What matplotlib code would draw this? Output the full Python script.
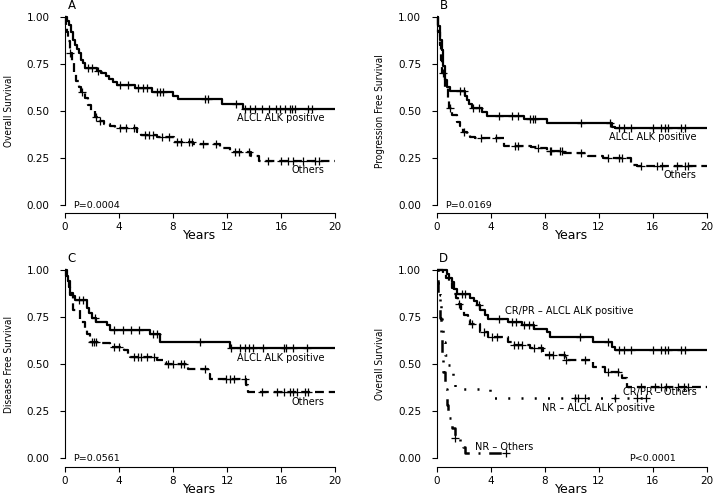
import matplotlib
matplotlib.use('Agg')
import matplotlib.pyplot as plt
import numpy as np

plt.rcParams['font.family'] = ['DejaVu Sans']

# ---------------- Panel A : Overall Survival ----------------
a_alk_t = [0, 0.12, 0.3, 0.42, 0.62, 0.74, 0.91, 1.06, 1.16, 1.36, 1.48, 2.35, 2.7, 3.04, 3.28, 3.58, 3.88, 5.19, 6.42, 8.0, 8.4, 11.6, 13.2]
a_alk_s = [1.0, 0.98, 0.96, 0.92, 0.88, 0.85, 0.83, 0.81, 0.77, 0.755, 0.728, 0.714, 0.70, 0.684, 0.67, 0.657, 0.636, 0.62, 0.60, 0.58, 0.563, 0.536, 0.51]
a_alk_c = [1.73, 1.98, 2.47, 4.07, 4.7, 5.43, 5.8, 6.05, 6.8, 7.04, 7.28, 10.4, 10.6, 12.7, 13.3, 13.7, 14.1, 14.6, 15.1, 15.6, 15.9, 16.3, 16.7, 16.8, 17.0, 18.0, 18.3]
a_oth_t = [0, 0.05, 0.12, 0.2, 0.35, 0.55, 0.7, 0.85, 1.0, 1.2, 1.45, 1.7, 1.95, 2.2, 2.5, 2.9, 3.3, 3.7, 5.3, 5.6, 6.8, 8.1, 9.5, 11.5, 12.2, 13.8, 14.4]
a_oth_s = [1.0, 0.95, 0.92, 0.87, 0.81, 0.76, 0.70, 0.66, 0.63, 0.60, 0.57, 0.53, 0.50, 0.47, 0.445, 0.43, 0.418, 0.408, 0.387, 0.373, 0.364, 0.337, 0.325, 0.305, 0.284, 0.261, 0.236]
a_oth_c = [0.4, 1.25, 2.3, 2.6, 4.1, 4.5, 5.1, 5.9, 6.2, 6.5, 7.2, 7.7, 8.3, 8.6, 9.2, 9.4, 10.2, 11.2, 12.6, 12.9, 13.6, 15.0, 16.0, 16.5, 16.9, 17.6, 18.5, 18.8]

# ---------------- Panel B : Progression Free Survival ----------------
b_alk_t = [0, 0.12, 0.25, 0.37, 0.49, 0.62, 0.76, 0.95, 2.1, 2.25, 2.4, 2.6, 3.35, 3.7, 6.44, 8.2, 12.96, 13.2]
b_alk_s = [1.0, 0.95, 0.88, 0.826, 0.737, 0.666, 0.627, 0.605, 0.58, 0.56, 0.535, 0.515, 0.496, 0.474, 0.456, 0.434, 0.417, 0.409]
b_alk_c = [1.7, 2.0, 2.7, 3.1, 4.6, 5.6, 6.0, 6.9, 7.1, 7.3, 10.7, 12.8, 13.5, 13.9, 14.4, 16.0, 16.6, 16.9, 17.1, 18.1, 18.4]
b_oth_t = [0, 0.12, 0.25, 0.33, 0.42, 0.62, 0.81, 0.91, 1.16, 1.48, 1.73, 1.98, 2.22, 2.47, 2.84, 5.0, 7.0, 7.4, 8.15, 9.4, 11.2, 12.3, 14.4, 14.8]
b_oth_s = [1.0, 0.92, 0.85, 0.77, 0.70, 0.63, 0.56, 0.515, 0.48, 0.444, 0.421, 0.39, 0.373, 0.364, 0.355, 0.314, 0.31, 0.302, 0.29, 0.275, 0.26, 0.249, 0.213, 0.205]
b_oth_c = [0.45, 0.95, 2.0, 3.3, 4.4, 5.8, 6.05, 7.5, 8.4, 8.5, 9.1, 9.3, 10.7, 12.7, 13.5, 13.7, 15.1, 16.3, 16.7, 17.8, 18.4, 18.6]

# ---------------- Panel C : Disease Free Survival ----------------
c_alk_t = [0, 0.1, 0.2, 0.3, 0.4, 0.6, 0.75, 1.6, 1.8, 2.0, 2.3, 3.1, 3.35, 6.3, 7.0, 12.2]
c_alk_s = [1.0, 0.97, 0.94, 0.91, 0.88, 0.86, 0.84, 0.80, 0.77, 0.745, 0.724, 0.706, 0.68, 0.662, 0.62, 0.584]
c_alk_c = [1.0, 1.3, 2.2, 3.6, 4.3, 4.9, 5.5, 6.5, 6.8, 10.0, 12.3, 12.96, 13.3, 13.6, 13.95, 14.7, 16.2, 16.4, 16.9, 17.9]
c_oth_t = [0, 0.15, 0.37, 0.62, 1.1, 1.5, 1.6, 1.85, 2.7, 3.3, 4.4, 4.7, 4.85, 6.8, 7.3, 7.5, 9.1, 10.6, 10.75, 13.4, 13.55]
c_oth_s = [1.0, 0.94, 0.866, 0.79, 0.724, 0.68, 0.66, 0.618, 0.61, 0.59, 0.575, 0.556, 0.538, 0.522, 0.511, 0.50, 0.476, 0.45, 0.42, 0.39, 0.354]
c_oth_c = [2.0, 2.15, 2.3, 3.6, 4.0, 5.1, 5.4, 5.6, 6.1, 6.6, 7.6, 8.0, 8.6, 8.8, 10.4, 11.9, 12.2, 12.5, 13.3, 14.6, 15.7, 16.2, 16.7, 16.9, 17.2, 17.8, 18.0]

# ---------------- Panel D : Overall Survival by response ----------------
d_crpr_alk_t = [0, 0.75, 0.9, 1.1, 1.3, 1.5, 2.5, 2.75, 3.0, 3.2, 3.6, 3.8, 5.3, 6.3, 7.2, 8.2, 8.4, 11.6, 12.96, 13.2]
d_crpr_alk_s = [1.0, 0.98, 0.96, 0.935, 0.90, 0.874, 0.85, 0.835, 0.815, 0.79, 0.76, 0.741, 0.724, 0.706, 0.688, 0.67, 0.643, 0.616, 0.593, 0.577]
d_crpr_alk_c = [1.9, 2.1, 3.1, 4.6, 5.6, 5.9, 6.5, 6.8, 7.1, 10.6, 12.7, 13.5, 13.9, 14.4, 16.0, 16.6, 16.9, 17.1, 18.1, 18.4]
d_crpr_oth_t = [0, 0.45, 0.7, 0.9, 1.1, 1.26, 1.45, 1.6, 1.8, 2.0, 2.3, 2.5, 3.2, 3.8, 5.3, 5.6, 6.9, 7.9, 9.5, 11.6, 12.5, 13.7, 14.1]
d_crpr_oth_s = [1.0, 0.98, 0.96, 0.936, 0.905, 0.874, 0.85, 0.82, 0.79, 0.763, 0.735, 0.713, 0.672, 0.644, 0.618, 0.60, 0.584, 0.549, 0.522, 0.487, 0.46, 0.425, 0.38]
d_crpr_oth_c = [1.65, 2.6, 3.5, 4.1, 4.5, 5.7, 6.0, 6.3, 7.2, 7.7, 8.3, 8.6, 9.4, 9.6, 11.0, 12.7, 13.4, 15.1, 16.2, 16.6, 17.0, 17.9, 18.3, 18.6]
d_nr_alk_t = [0, 0.12, 0.25, 0.33, 0.42, 0.49, 0.62, 0.86, 1.1, 1.23, 1.36, 3.95]
d_nr_alk_s = [1.0, 0.93, 0.867, 0.78, 0.69, 0.62, 0.55, 0.496, 0.46, 0.398, 0.368, 0.318]
d_nr_alk_c = [10.25, 10.5, 11.0, 13.2, 14.8, 15.5]
d_nr_oth_t = [0, 0.12, 0.25, 0.33, 0.42, 0.49, 0.62, 0.74, 0.86, 1.1, 1.36, 1.73, 1.98, 2.1]
d_nr_oth_s = [1.0, 0.85, 0.743, 0.637, 0.55, 0.46, 0.37, 0.283, 0.212, 0.16, 0.106, 0.088, 0.062, 0.028]
d_nr_oth_c = [1.37, 5.15]

x_ticks = [0, 4, 8, 12, 16, 20]
y_ticks = [0.0, 0.25, 0.5, 0.75, 1.0]
y_tick_labels = ['0.00', '0.25', '0.50', '0.75', '1.00']

SOLID = '-'
DASHED = (0, (4, 2.2))
DOTTED = (0, (0.8, 4.5))
DASHDOT = (0, (0.8, 3.5, 5, 3.5))


def surv_at(times, surv, t):
    idx = np.searchsorted(np.asarray(times), t, side='right') - 1
    return np.asarray(surv)[idx]


def draw_curve(ax, times, surv, censors, end, ls, lw=1.6):
    x = list(times) + [end]
    y = list(surv) + [surv[-1]]
    ax.step(x, y, where='post', color='black', lw=lw, linestyle=ls,
            solid_capstyle='butt', dash_capstyle='butt', clip_on=False)
    cy = [surv_at(times, surv, c) for c in censors]
    ax.plot(censors, cy, linestyle='none', marker='+', ms=5.5, mew=0.9,
            color='black', clip_on=False)


def setup(ax, ylabel, letter, ptext, px, pha):
    ax.set_xlim(0, 20)
    ax.set_ylim(-0.044, 1.04)
    for s in ['top', 'right']:
        ax.spines[s].set_visible(False)
    ax.spines['left'].set_bounds(0, 1)
    ax.spines['bottom'].set_bounds(0, 20)
    for s in ['left', 'bottom']:
        ax.spines[s].set_linewidth(0.8)
    ax.set_xticks(x_ticks)
    ax.set_xticklabels([str(v) for v in x_ticks])
    ax.set_yticks(y_ticks)
    ax.set_yticklabels(y_tick_labels)
    ax.tick_params(direction='out', length=3.6, width=0.8, labelsize=7.5)
    ax.tick_params(axis='y', pad=7.5)
    ax.tick_params(axis='x', pad=3)
    ax.text(10, -0.128, 'Years', transform=ax.get_xaxis_transform(),
            ha='center', va='baseline', fontsize=9)
    ax.text(-0.209, 0.5, ylabel, transform=ax.get_yaxis_transform(),
            rotation=90, ha='center', va='center', fontsize=7.2,
            fontstretch='condensed')
    ax.text(0.5, 1.045, letter, ha='center', va='baseline', fontsize=8.5,
            clip_on=False)
    ax.text(px, 0.0, ptext, ha=pha, va='center', fontsize=6.8)


fig = plt.figure(figsize=(7.15, 4.95), dpi=100)
W = 270 / 715
axA = fig.add_axes([65 / 715, 0.5691, W, 0.4117])
axB = fig.add_axes([436.7 / 715, 0.5691, W, 0.4117])
axC = fig.add_axes([65 / 715, 0.0574, W, 0.4123])
axD = fig.add_axes([436.7 / 715, 0.0574, W, 0.4123])

# A
draw_curve(axA, a_alk_t, a_alk_s, a_alk_c, 20, SOLID)
draw_curve(axA, a_oth_t, a_oth_s, a_oth_c, 20, DASHED)
setup(axA, 'Overall Survival', 'A', 'P=0.0004', 0.62, 'left')
axA.text(16.0, 0.462, 'ALCL ALK positive', ha='center', va='center', fontsize=7)
axA.text(18.0, 0.187, 'Others', ha='center', va='center', fontsize=7)

# B
draw_curve(axB, b_alk_t, b_alk_s, b_alk_c, 20, SOLID)
draw_curve(axB, b_oth_t, b_oth_s, b_oth_c, 20, DASHED)
setup(axB, 'Progression Free Survival', 'B', 'P=0.0169', 0.62, 'left')
axB.text(16.0, 0.364, 'ALCL ALK positive', ha='center', va='center', fontsize=7)
axB.text(18.0, 0.16, 'Others', ha='center', va='center', fontsize=7)

# C
draw_curve(axC, c_alk_t, c_alk_s, c_alk_c, 20, SOLID)
draw_curve(axC, c_oth_t, c_oth_s, c_oth_c, 20, DASHED)
setup(axC, 'Disease Free Survival', 'C', 'P=0.0561', 0.62, 'left')
axC.text(16.0, 0.531, 'ALCL ALK positive', ha='center', va='center', fontsize=7)
axC.text(18.0, 0.30, 'Others', ha='center', va='center', fontsize=7)

# D
draw_curve(axD, d_crpr_alk_t, d_crpr_alk_s, d_crpr_alk_c, 20, SOLID)
draw_curve(axD, d_crpr_oth_t, d_crpr_oth_s, d_crpr_oth_c, 20, DASHED)
draw_curve(axD, d_nr_alk_t, d_nr_alk_s, d_nr_alk_c, 15.5, DOTTED, lw=1.8)
draw_curve(axD, d_nr_oth_t, d_nr_oth_s, d_nr_oth_c, 5.15, DASHDOT, lw=1.8)
setup(axD, 'Overall Survival', 'D', 'P<0.0001', 16.0, 'center')
axD.text(9.8, 0.782, 'CR/PR – ALCL ALK positive', ha='center', va='center', fontsize=7)
axD.text(16.5, 0.354, 'CR/PR – Others', ha='center', va='center', fontsize=7)
axD.text(12.0, 0.269, 'NR – ALCL ALK positive', ha='center', va='center', fontsize=7)
axD.text(5.0, 0.062, 'NR – Others', ha='center', va='center', fontsize=7)

fig.savefig('out.png', dpi=100)
